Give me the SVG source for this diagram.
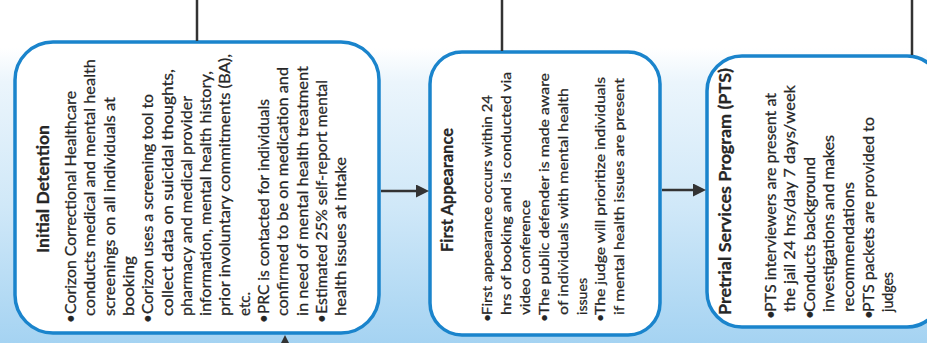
<svg xmlns="http://www.w3.org/2000/svg" width="927" height="343" viewBox="0 0 927 343">
<defs>
<linearGradient id="bg" x1="0" y1="0" x2="0" y2="1">
<stop offset="0" stop-color="#ffffff"/>
<stop offset="0.14" stop-color="#ffffff"/>
<stop offset="0.24" stop-color="#ebf5fc"/>
<stop offset="0.6" stop-color="#d0e8f8"/>
<stop offset="1" stop-color="#a5d3f2"/>
</linearGradient>
<marker id="arr" markerUnits="userSpaceOnUse" markerWidth="13" markerHeight="13" viewBox="0 0 13 13" refX="0" refY="6.5" orient="auto">
<path d="M0,0 L13,6.5 L0,13 z" fill="#333333"/>
</marker>
</defs>
<style>
.box{fill:#ffffff;stroke:#1a84cc;stroke-width:3.5}
.t{font-family:Lato,"Liberation Sans",sans-serif;font-size:15px;fill:#262626;stroke:#262626;stroke-width:0.25}
.s{font-size:14px}
.h{font-weight:bold;font-size:17px}
.m{text-anchor:middle}
.c{stroke:#333333;stroke-width:2.5;fill:none}
</style>
<rect x="0" y="0" width="927" height="343" fill="url(#bg)"/>
<g id="initial-detention">
<rect class="box" x="15" y="42" width="364" height="291" rx="38"/>
<g transform="translate(0,316) rotate(-90)">
<text class="t h m" x="127" y="48.5" textLength="128" lengthAdjust="spacingAndGlyphs">Initial Detention</text>
<text class="t" x="-7" y="76">•</text>
<text class="t" x="2" y="76" textLength="223" lengthAdjust="spacingAndGlyphs">Corizon Correctional Healthcare</text>
<text class="t" x="0" y="95.3" textLength="257" lengthAdjust="spacingAndGlyphs">conducts medical and mental health</text>
<text class="t" x="0" y="114.6" textLength="219" lengthAdjust="spacingAndGlyphs">screenings on all individuals at</text>
<text class="t" x="0" y="133.9" textLength="60" lengthAdjust="spacingAndGlyphs">booking</text>
<text class="t" x="-7" y="153.2">•</text>
<text class="t" x="2" y="153.2" textLength="220" lengthAdjust="spacingAndGlyphs">Corizon uses a screening tool to</text>
<text class="t" x="0" y="172.5" textLength="247" lengthAdjust="spacingAndGlyphs">collect data on suicidal thoughts,</text>
<text class="t" x="0" y="191.7" textLength="220" lengthAdjust="spacingAndGlyphs">pharmacy and medical provider</text>
<text class="t" x="0" y="211" textLength="245" lengthAdjust="spacingAndGlyphs">information, mental health history,</text>
<text class="t" x="0" y="230.3" textLength="262" lengthAdjust="spacingAndGlyphs">prior involuntary commitments (BA),</text>
<text class="t" x="0" y="249.6" textLength="24" lengthAdjust="spacingAndGlyphs">etc.</text>
<text class="t" x="-7" y="268.9">•</text>
<text class="t" x="2" y="268.9" textLength="215" lengthAdjust="spacingAndGlyphs">PRC is contacted for individuals</text>
<text class="t" x="0" y="288.2" textLength="249" lengthAdjust="spacingAndGlyphs">confirmed to be on medication and</text>
<text class="t" x="0" y="307.5" textLength="250" lengthAdjust="spacingAndGlyphs">in need of mental health treatment</text>
<text class="t" x="-7" y="326.8">•</text>
<text class="t" x="2" y="326.8" textLength="234" lengthAdjust="spacingAndGlyphs">Estimated 25% self-report mental</text>
<text class="t" x="0" y="346.1" textLength="159" lengthAdjust="spacingAndGlyphs">health issues at intake</text>
</g>
</g>
<g id="first-appearance">
<rect class="box" x="430" y="52" width="230" height="283" rx="32"/>
<g transform="translate(0,315) rotate(-90)">
<text class="t h m" x="125" y="453" textLength="124" lengthAdjust="spacingAndGlyphs">First Appearance</text>
<text class="t s" x="-7" y="492">•</text>
<text class="t s" x="0" y="492" textLength="220" lengthAdjust="spacingAndGlyphs">First appearance occurs within 24</text>
<text class="t s" x="0" y="510.9" textLength="243" lengthAdjust="spacingAndGlyphs">hrs of booking and is conducted via</text>
<text class="t s" x="0" y="529.8" textLength="115" lengthAdjust="spacingAndGlyphs">video conference</text>
<text class="t s" x="-7" y="548.7">•</text>
<text class="t s" x="0" y="548.7" textLength="242" lengthAdjust="spacingAndGlyphs">The public defender is made aware</text>
<text class="t s" x="0" y="567.6" textLength="227" lengthAdjust="spacingAndGlyphs">of individuals with mental health</text>
<text class="t s" x="0" y="586.5" textLength="37" lengthAdjust="spacingAndGlyphs">issues</text>
<text class="t s" x="-7" y="605.4">•</text>
<text class="t s" x="0" y="605.4" textLength="238" lengthAdjust="spacingAndGlyphs">The judge will prioritize individuals</text>
<text class="t s" x="0" y="624.3" textLength="237" lengthAdjust="spacingAndGlyphs">if mental health issues are present</text>
</g>
</g>
<g id="pretrial-services">
<rect class="box" x="707" y="56" width="235" height="271" rx="35"/>
<g transform="translate(0,312) rotate(-90)">
<text class="t h" x="-3" y="731" textLength="247" lengthAdjust="spacingAndGlyphs">Pretrial Services Program (PTS)</text>
<text class="t" x="-7" y="775.5">•</text>
<text class="t" x="0" y="775.5" textLength="219" lengthAdjust="spacingAndGlyphs">PTS interviewers are present at</text>
<text class="t" x="0" y="795.1" textLength="227" lengthAdjust="spacingAndGlyphs">the jail 24 hrs/day 7 days/week</text>
<text class="t" x="-7" y="814.7">•</text>
<text class="t" x="0" y="814.7" textLength="155" lengthAdjust="spacingAndGlyphs">Conducts background</text>
<text class="t" x="0" y="834.3" textLength="177" lengthAdjust="spacingAndGlyphs">investigations and makes</text>
<text class="t" x="0" y="853.9" textLength="130" lengthAdjust="spacingAndGlyphs">recommendations</text>
<text class="t" x="-7" y="873.5">•</text>
<text class="t" x="0" y="873.5" textLength="195" lengthAdjust="spacingAndGlyphs">PTS packets are provided to</text>
<text class="t" x="0" y="893.1" textLength="40" lengthAdjust="spacingAndGlyphs">judges</text>
</g>
</g>
<g id="connectors">
<line class="c" x1="197" y1="0" x2="197" y2="41"/>
<line class="c" x1="502" y1="0" x2="502" y2="51"/>
<line class="c" x1="912" y1="0" x2="912" y2="55"/>
<line class="c" x1="381" y1="191" x2="416" y2="191" marker-end="url(#arr)"/>
<line class="c" x1="662" y1="190" x2="693" y2="190" marker-end="url(#arr)"/>
<line class="c" x1="285" y1="370" x2="285" y2="348" marker-end="url(#arr)"/>
</g>
</svg>
